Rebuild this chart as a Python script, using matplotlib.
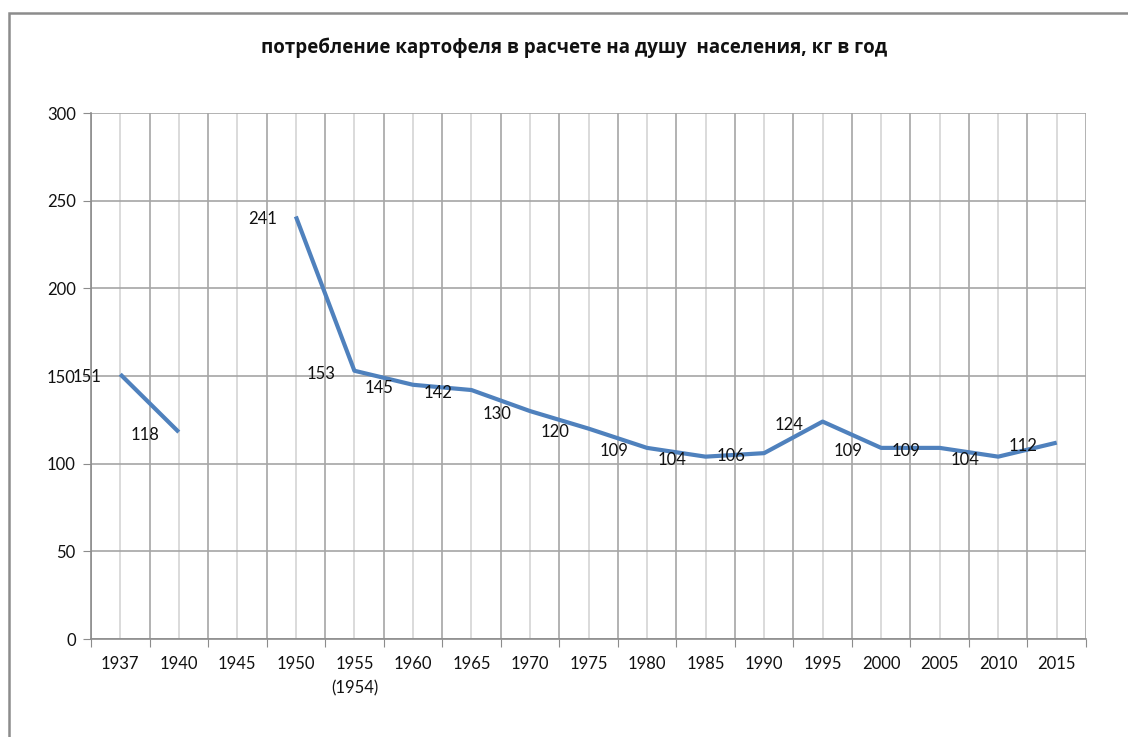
import numpy as np
import matplotlib.pyplot as plt
from matplotlib.patches import Rectangle

# -----------------------------
# Data
# -----------------------------

years = ["1937", "1940", "1945", "1950", "1955\n(1954)", "1960", "1965", "1970",
         "1975", "1980", "1985", "1990", "1995", "2000", "2005", "2010", "2015"]
potato_kg = [151, 118, np.nan, 241, 153, 145, 142, 130, 120, 109, 104, 106,
             124, 109, 109, 104, 112]
y_ticks = [0, 50, 100, 150, 200, 250, 300]

title = "потребление картофеля в расчете на душу  населения, кг в год"

# -----------------------------
# Plot
# -----------------------------

plt.rcParams["font.family"] = ["Lato", "Open Sans", "DejaVu Sans"]

W, H = 1128, 737
fig = plt.figure(figsize=(W / 100, H / 100), dpi=100)
ax = fig.add_axes([91 / W, 1 - 639 / H, (1086 - 91) / W, (639 - 113) / H])

x = np.arange(len(years))
ax.plot(x, potato_kg, color="#4f81bd", linewidth=3, solid_capstyle="butt", zorder=3)

# value labels sit to the left of each point
for xi, v in zip(x, potato_kg):
    if np.isnan(v):
        continue
    ax.annotate(f"{v:.0f}", (xi, v), xytext=(-19, -3), textcoords="offset pixels",
                ha="right", va="center", fontsize=12, color="#111111", zorder=4)

ax.set_xlim(-0.5, len(years) - 0.5)
ax.set_ylim(0, 300)
ax.set_yticks(y_ticks)

# boundaries get ticks, centers get labels
ax.set_xticks(np.arange(-0.5, len(years), 1))
ax.set_xticklabels([])
ax.set_xticks(x, minor=True)
ax.set_xticklabels(years, minor=True, fontsize=12, color="#111111",
                   linespacing=1.6, va="top")
ax.tick_params(axis="x", which="major", length=6, color="#8c8c8c")
ax.tick_params(axis="x", which="minor", length=0, pad=12.5)
ax.tick_params(axis="y", length=6, color="#8c8c8c", labelsize=12,
               labelcolor="#111111", pad=5)

ax.grid(axis="x", which="major", color="#a6a6a6", linewidth=1.2)
ax.grid(axis="x", which="minor", color="#d4d4d4", linewidth=1.2)
ax.grid(axis="y", which="major", color="#a6a6a6", linewidth=1.2)
ax.set_axisbelow(True)

for side in ["top", "right"]:
    ax.spines[side].set_visible(False)
for side in ["left", "bottom"]:
    ax.spines[side].set_color("#8c8c8c")
    ax.spines[side].set_linewidth(1.2)

fig.text(574 / W, 1 - 48 / H, title, ha="center", va="center",
         fontsize=13.5, fontweight="bold", family=["Open Sans", "DejaVu Sans"],
         color="#111111")

# chart frame, runs off the right and bottom edges
fig.patches.append(Rectangle((9 / W, -0.1), 1.1, 1.1 - 13 / H,
                             transform=fig.transFigure, fill=False,
                             edgecolor="#8c8c8c", linewidth=1.8))

plt.savefig("out.png", dpi=100)
